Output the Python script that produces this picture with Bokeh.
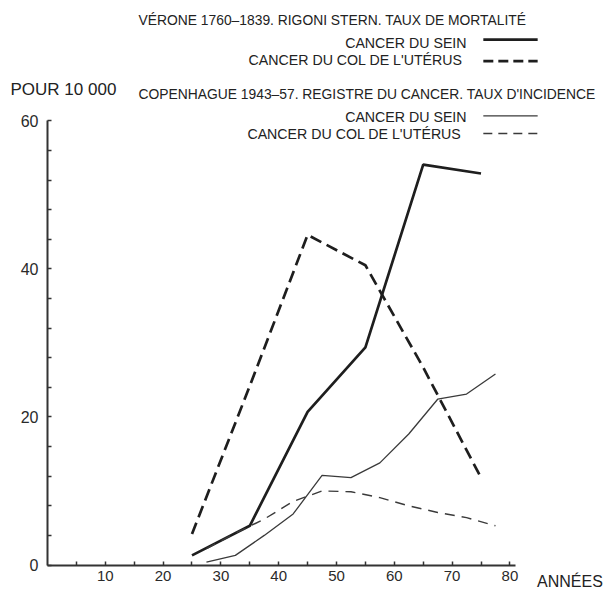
from bokeh.plotting import figure
from bokeh.models import Range1d, FixedTicker, Label, Arrow
from bokeh.embed import file_html
from bokeh.resources import INLINE

# ---- data ----
verona_ages = [25, 35, 45, 55, 65, 75]
verona_sein = [1.3, 5.3, 20.7, 29.4, 54.1, 52.9]
verona_uterus = [4.2, 24.2, 44.6, 40.5, 26.7, 11.8]

copen_ages = [27.5, 32.5, 37.5, 42.5, 47.5, 52.5, 57.5, 62.5, 67.5, 72.5, 77.5]
copen_sein = [0.4, 1.3, 4.0, 6.9, 12.1, 11.8, 13.8, 17.7, 22.4, 23.1, 25.8]
copen_uterus = [2.2, 4.3, 6.2, 8.6, 10.0, 9.9, 9.1, 8.0, 7.1, 6.4, 5.3]

x_ticks = [5, 10, 15, 20, 25, 30, 35, 40, 45, 50, 55, 60, 65, 70, 75, 80]
x_tick_labels = ["", "10", "", "20", "", "30", "", "40", "", "50", "", "60", "", "70", "", "80"]
y_ticks = [0, 4, 8, 12, 16, 20, 24, 28, 32, 36, 40, 44, 48, 52, 56, 60]
y_tick_labels = ["0", "", "", "", "", "20", "", "", "", "", "40", "", "", "", "", "60"]

title_verone = "VÉRONE 1760–1839. RIGONI STERN. TAUX DE MORTALITÉ"
title_copen = "COPENHAGUE 1943–57. REGISTRE DU CANCER. TAUX D'INCIDENCE"
lbl_sein = "CANCER DU SEIN"
lbl_uterus = "CANCER DU COL DE L'UTÉRUS"
y_unit = "POUR 10 000"
x_unit = "ANNÉES"

FONT = "Liberation Sans"
INK = "#1e1e1e"
THIN = "#3a3a3a"

# The frame fills the whole canvas; the axes are pinned at 0 with bounds,
# so the headings and the legend samples above the plot are not clipped.
p = figure(width=606, height=589,
           x_range=Range1d(-8.13, 96.71), y_range=Range1d(-3.31, 76.28),
           output_backend="svg", toolbar_location=None,
           min_border=0, min_border_left=0, min_border_right=0,
           min_border_top=0, min_border_bottom=0)
p.xgrid.visible = False
p.ygrid.visible = False
p.outline_line_color = None
p.background_fill_color = "white"
p.border_fill_color = "white"

for ax in (p.xaxis[0], p.yaxis[0]):
    ax.fixed_location = 0
    ax.axis_line_width = 2
    ax.axis_line_color = "#333333"
    ax.major_tick_in = 4
    ax.major_tick_out = 0
    ax.major_tick_line_color = "#333333"
    ax.major_tick_line_width = 1.5
    ax.minor_tick_line_color = None
    ax.major_label_text_font = FONT
    ax.major_label_text_color = "#2a2a2a"

p.xaxis.major_label_text_font_size = "15px"
p.yaxis.major_label_text_font_size = "16px"
p.xaxis.bounds = (0, 81)
p.yaxis.bounds = (0, 60)
p.xaxis.ticker = FixedTicker(ticks=x_ticks)
p.xaxis.major_label_overrides = {t: l for t, l in zip(x_ticks, x_tick_labels)}
p.xaxis.major_label_standoff = 6
p.yaxis.ticker = FixedTicker(ticks=y_ticks)
p.yaxis.major_label_overrides = {t: l for t, l in zip(y_ticks, y_tick_labels)}
p.yaxis.major_label_standoff = 9

# ---- series ----
p.line(verona_ages, verona_sein, line_color=INK, line_width=2.7)
p.line(verona_ages, verona_uterus, line_color=INK, line_width=2.7, line_dash="12 6")
p.line(copen_ages, copen_sein, line_color=THIN, line_width=1.3)
p.line(copen_ages, copen_uterus, line_color=THIN, line_width=1.4, line_dash="10 7")

# ---- texts ----
def lab(x, y, text, size="13.85px", align="left"):
    p.add_layout(Label(x=x, y=y, text=text, text_font=FONT, text_font_size=size,
                       text_color="#222222", text_align=align, text_baseline="middle"))

lab(15.74, 73.6, title_verone)
lab(72.5, 70.6, lbl_sein, size="14.2px", align="right")
lab(71.8, 68.2, lbl_uterus, size="14.2px", align="right")
lab(-6.4, 64.2, y_unit, size="17px")
lab(15.74, 63.6, title_copen)
lab(72.5, 60.6, lbl_sein, size="14.2px", align="right")
lab(71.6, 58.2, lbl_uterus, size="14.2px", align="right")
lab(84.7, -2.2, x_unit, size="16px")

# ---- legend samples ----
def sample(y, width, dash, color):
    p.add_layout(Arrow(x_start=75.4, y_start=y, x_end=84.8, y_end=y, start=None, end=None,
                       line_color=color, line_width=width, line_dash=dash))

sample(71.0, 2.7, "solid", INK)
sample(68.1, 2.7, "10 5", INK)
sample(60.7, 1.3, "solid", THIN)
sample(58.3, 1.4, "9 6", THIN)

open("out.html", "w").write(file_html(p, INLINE))
